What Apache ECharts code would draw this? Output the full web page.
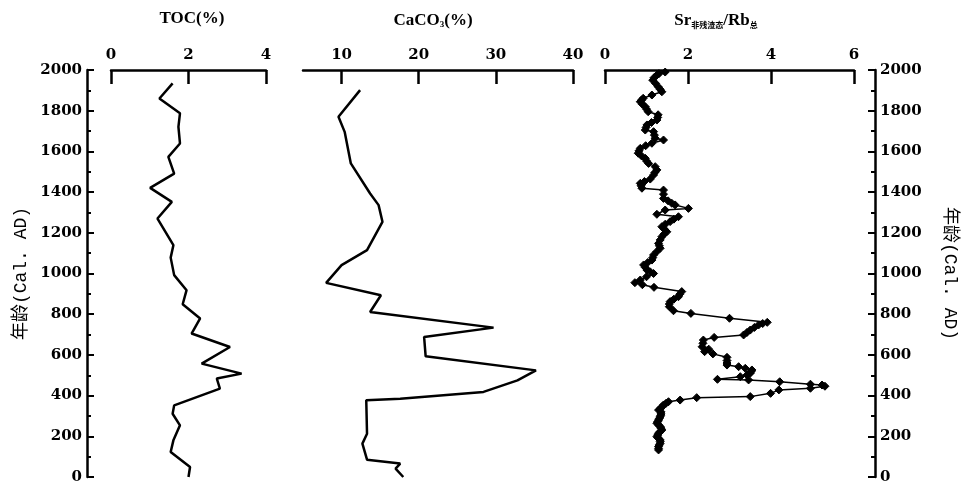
<!DOCTYPE html>
<html>
<head>
<meta charset="utf-8">
<script src="https://cdn.jsdelivr.net/npm/echarts@6/dist/echarts.min.js"></script>
<style>html,body{margin:0;padding:0;background:#fff}#c{width:962px;height:485px}</style>
</head>
<body>
<div id="c"></div>
<script>
// ---- data (age in Cal. AD, value) ----
var tocAge = [1934,1860,1787,1721,1639,1573,1491,1421,1352,1270,1139,1078,992,918,849,779,705,639,557,508,484,434,352,311,254,180,123,49,0];
var tocVal = [1.59,1.25,1.78,1.74,1.78,1.48,1.63,1.01,1.57,1.20,1.61,1.54,1.63,1.95,1.85,2.30,2.08,3.07,2.34,3.37,2.73,2.81,1.63,1.59,1.78,1.61,1.54,2.04,2.00];
var tocTicks = [0, 2, 4];

var caAge = [1901,1770,1696,1541,1393,1336,1254,1115,1041,954,893,811,734,688,593,524,475,418,385,377,213,164,85,66,41,0];
var caVal = [12.4,9.6,10.4,11.2,13.7,14.8,15.3,13.3,10.0,8.0,15.1,13.7,29.7,20.7,20.9,35.2,32.8,28.4,17.6,13.2,13.3,12.7,13.3,17.6,17.0,18.0];
var caTicks = [10, 20, 30, 40];

var srAge = [1990,1982,1975,1962,1950,1934,1918,1905,1893,1877,1861,1852,1844,1832,1820,1808,1795,1780,1767,1754,1742,1730,1718,1705,1697,1680,1665,1656,1640,1628,1615,1603,1591,1578,1566,1553,1541,1525,1509,1496,1484,1464,1452,1443,1431,1419,1410,1390,1369,1357,1345,1337,1320,1312,1291,1279,1267,1255,1242,1230,1218,1205,1193,1181,1165,1148,1136,1124,1108,1091,1078,1066,1054,1042,1030,1017,1008,1000,984,968,955,945,932,911,898,886,874,862,850,837,817,804,780,760,754,747,735,722,710,698,686,673,657,640,628,616,605,588,572,560,550,542,534,526,518,510,501,493,480,477,468,456,452,446,436,428,411,395,390,378,370,362,354,347,340,333,329,320,310,303,296,288,280,272,264,256,248,240,231,223,215,206,198,190,182,174,166,158,150,141,133];
var srVal = [1.45,1.30,1.25,1.18,1.15,1.22,1.28,1.33,1.37,1.13,0.92,0.88,0.85,0.90,0.97,1.00,1.04,1.28,1.27,1.25,1.12,1.01,0.99,0.97,1.17,1.19,1.21,1.41,1.13,0.98,0.85,0.82,0.80,0.88,0.97,1.00,1.05,1.21,1.25,1.20,1.17,1.09,0.95,0.85,0.87,0.89,1.41,1.41,1.41,1.52,1.61,1.69,2.01,1.45,1.25,1.77,1.66,1.57,1.45,1.37,1.43,1.49,1.42,1.37,1.33,1.29,1.31,1.33,1.25,1.17,1.15,1.13,1.03,0.93,0.97,1.01,1.09,1.17,1.00,0.85,0.72,0.90,1.18,1.85,1.80,1.77,1.66,1.57,1.55,1.55,1.65,2.07,3.00,3.91,3.80,3.70,3.60,3.50,3.42,3.34,2.63,2.37,2.36,2.34,2.50,2.40,2.60,2.94,2.94,2.94,2.94,3.22,3.38,3.54,3.52,3.50,3.42,3.26,2.71,3.46,4.21,4.95,5.23,5.30,4.95,4.19,3.99,3.50,2.21,1.81,1.53,1.47,1.41,1.38,1.35,1.32,1.29,1.35,1.35,1.34,1.33,1.31,1.29,1.27,1.25,1.29,1.33,1.35,1.37,1.33,1.29,1.27,1.25,1.29,1.33,1.33,1.33,1.31,1.29,1.29,1.29];
var srTicks = [0, 2, 4, 6];

function pairs(v, a) { return v.map(function (x, i) { return [x, a[i]]; }); }

var numFont = { fontFamily: 'DejaVu Serif', fontWeight: 'bold', fontSize: 15, color: '#000' };
var nameFont = { fontFamily: 'Liberation Mono, Noto Sans CJK SC', fontSize: 18, color: '#000' };

function topAxis(grid, min, max, ticks) {
  return {
    type: 'value', gridIndex: grid, position: 'top', min: min, max: max,
    axisLine: { show: true, onZero: false, lineStyle: { color: '#000', width: 2.5 } },
    axisTick: { show: true, inside: true, length: 14, lineStyle: { color: '#000', width: 2.5 }, customValues: ticks },
    axisLabel: Object.assign({ margin: 7, customValues: ticks, formatter: function (v) { return String(v); } }, numFont),
    splitLine: { show: false }
  };
}
function ageAxis(grid, pos, offset, show, name, rot, gap) {
  return {
    type: 'value', gridIndex: grid, position: pos, offset: offset, min: 0, max: 2000, interval: 200, show: show,
    axisLine: { show: true, onZero: false, lineStyle: { color: '#000', width: 2.5 } },
    axisTick: { show: true, inside: true, length: 7, lineStyle: { color: '#000', width: 2 } },
    minorTick: { show: true, splitNumber: 2, length: 4, lineStyle: { color: '#000', width: 2 } },
    axisLabel: Object.assign({ margin: 5, formatter: function (v) { return String(v); } }, numFont),
    splitLine: { show: false },
    name: name, nameLocation: 'middle', nameRotate: rot, nameGap: gap, nameTextStyle: nameFont
  };
}

var chart = echarts.init(document.getElementById('c'), null, { renderer: 'canvas' });
chart.setOption({
  backgroundColor: '#fff',
  animation: false,
  grid: [
    { left: 111, top: 70, width: 155, height: 407 },
    { left: 303, top: 70, width: 270, height: 407 },
    { left: 605, top: 70, width: 249, height: 407 }
  ],
  xAxis: [
    topAxis(0, 0, 4, tocTicks),
    topAxis(1, 5, 40, caTicks),
    topAxis(2, 0, 6, srTicks)
  ],
  yAxis: [
    ageAxis(0, 'left', 24, true, '年龄(Cal. AD)', 90, 57),
    ageAxis(1, 'left', 0, false, '', 90, 0),
    ageAxis(2, 'right', 21, true, '年龄(Cal. AD)', -90, 66)
  ],
  graphic: [
    { type: 'text', x: 192, y: 19, style: { text: 'TOC(%)', font: 'bold 17px "Liberation Serif"', fill: '#000', align: 'center', verticalAlign: 'middle' } },
    { type: 'text', x: 433, y: 19, style: {
      text: '{a|CaCO}{s|3}{a|(%)}', align: 'center', verticalAlign: 'middle', fill: '#000',
      rich: {
        a: { fontFamily: 'Liberation Serif', fontWeight: 'bold', fontSize: 17, lineHeight: 20, verticalAlign: 'bottom' },
        s: { fontFamily: 'Liberation Serif', fontWeight: 'bold', fontSize: 9, lineHeight: 10, verticalAlign: 'bottom' }
      } } },
    { type: 'text', x: 716, y: 19, style: {
      text: '{a|Sr}{s|非残渣态}{a|/Rb}{s|总}', align: 'center', verticalAlign: 'middle', fill: '#000',
      rich: {
        a: { fontFamily: 'Liberation Serif', fontWeight: 'bold', fontSize: 17, lineHeight: 20, verticalAlign: 'bottom' },
        s: { fontFamily: 'Noto Sans CJK SC', fontWeight: 'bold', fontSize: 8, lineHeight: 8, verticalAlign: 'bottom' }
      } } }
  ],
  series: [
    { type: 'line', xAxisIndex: 0, yAxisIndex: 0, data: pairs(tocVal, tocAge), showSymbol: false, symbol: 'none',
      lineStyle: { color: '#000', width: 2.5 }, clip: false },
    { type: 'line', xAxisIndex: 1, yAxisIndex: 1, data: pairs(caVal, caAge), showSymbol: false, symbol: 'none',
      lineStyle: { color: '#000', width: 2.5 }, clip: false },
    { type: 'line', xAxisIndex: 2, yAxisIndex: 2, data: pairs(srVal, srAge), symbol: 'diamond', symbolSize: 8, showAllSymbol: true,
      itemStyle: { color: '#000', borderColor: '#000' }, lineStyle: { color: '#000', width: 1.5 }, clip: false }
  ]
});
</script>
</body>
</html>
